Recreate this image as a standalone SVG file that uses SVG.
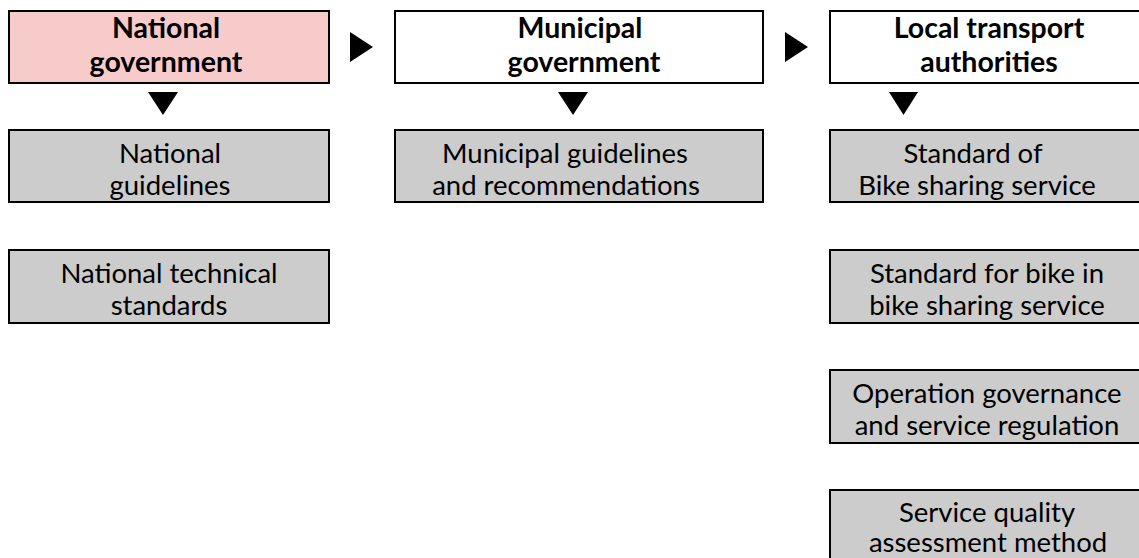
<svg xmlns="http://www.w3.org/2000/svg" width="1139" height="558" viewBox="0 0 1139 558">
<style>
.box{stroke:#000;stroke-width:2}
.hdr{fill:#fff}
.pink{fill:#f8cbcb}
.grey{fill:#cccccc}
.t{font-family:Lato,"Open Sans",sans-serif;font-size:27.5px;fill:#000;text-anchor:middle}
.b{font-weight:bold;font-size:28.5px}
.arr{fill:#000}
</style>
<rect width="1139" height="558" fill="#fff"/>
<g id="national-government"><rect class="box pink" x="9" y="11" width="320" height="72"/>
<text class="t b" x="166" y="38">National</text><text class="t b" x="166" y="72">government</text></g>
<g id="municipal-government"><rect class="box hdr" x="395" y="11" width="368" height="72"/>
<text class="t b" x="580" y="38">Municipal</text><text class="t b" x="584" y="72">government</text></g>
<g id="local-transport"><rect class="box hdr" x="830" y="11" width="320" height="72"/>
<text class="t b" x="989" y="38">Local transport</text><text class="t b" x="989" y="72">authorities</text></g>
<g id="national-guidelines"><rect class="box grey" x="9" y="130" width="320" height="72"/>
<text class="t" x="170" y="163">National</text><text class="t" x="170" y="195">guidelines</text></g>
<g id="national-technical"><rect class="box grey" x="9" y="250" width="320" height="73"/>
<text class="t" x="169" y="283">National technical</text><text class="t" x="169" y="315">standards</text></g>
<g id="municipal-guidelines"><rect class="box grey" x="395" y="130" width="368" height="72"/>
<text class="t" x="565" y="163">Municipal guidelines</text><text class="t" x="566" y="195">and recommendations</text></g>
<g id="standard-bike-sharing"><rect class="box grey" x="830" y="130" width="320" height="72"/>
<text class="t" x="973" y="163">Standard of</text><text class="t" x="977" y="195">Bike sharing service</text></g>
<g id="standard-bike"><rect class="box grey" x="830" y="250" width="320" height="73"/>
<text class="t" x="987" y="283">Standard for bike in</text><text class="t" x="987" y="315">bike sharing service</text></g>
<g id="operation-governance"><rect class="box grey" x="830" y="370" width="320" height="73"/>
<text class="t" x="987" y="403">Operation governance</text><text class="t" x="987" y="435">and service regulation</text></g>
<g id="service-quality"><rect class="box grey" x="830" y="490" width="320" height="80"/>
<text class="t" x="987" y="522">Service quality</text><text class="t" x="988" y="552">assessment method</text></g>
<g id="connectors">
<polygon class="arr" points="350,32 350,62 373,47"/>
<polygon class="arr" points="785,32 785,62 808,47"/>
<polygon class="arr" points="148,92 178,92 163,115"/>
<polygon class="arr" points="558,92 588,92 573,115"/>
<polygon class="arr" points="889,92 918,92 903.5,115"/>
</g>
</svg>
